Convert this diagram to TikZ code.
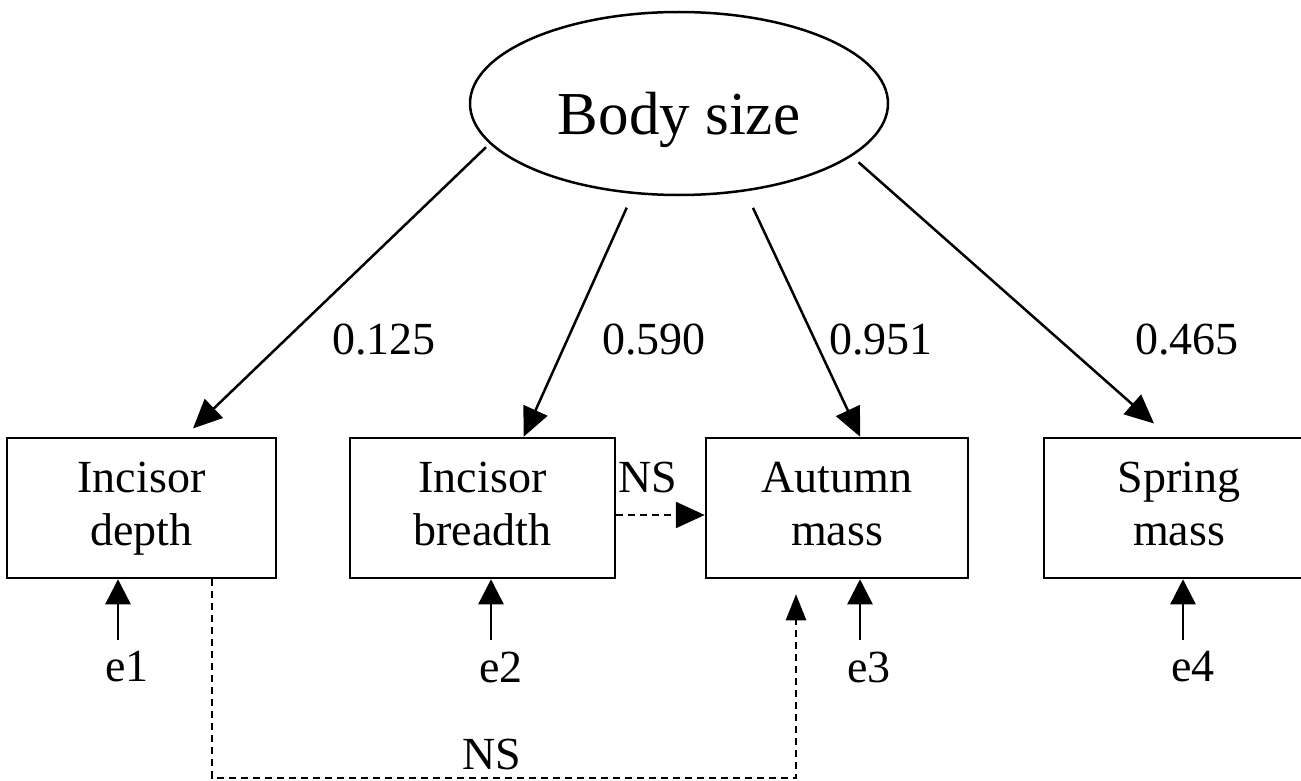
\documentclass[tikz,border=0pt]{standalone}
\usepackage{fontspec}
\setmainfont{Liberation Serif}
\usetikzlibrary{arrows.meta,shapes.geometric,calc}
\begin{document}
\begin{tikzpicture}[x=1pt,y=-1pt,
  txt/.style={font=\fontsize{46}{53}\selectfont, inner sep=0pt},
  boxnode/.style={draw, line width=2.5pt, minimum height=140pt, align=center, inner sep=0pt, txt},
  latent/.style={draw, ellipse, line width=2.5pt, minimum width=418pt, minimum height=183pt,
                 inner sep=0pt, font=\fontsize{61}{70}\selectfont, text height=63pt, text depth=0pt},
  link/.style={line width=2.5pt, -{Triangle[length=29pt,width=26pt]}},
  dlink/.style={link, dash pattern=on 7pt off 5pt},
  elink/.style={line width=2.5pt, -{Triangle[length=25pt,width=25pt]}}
]
\useasboundingbox (0,0) rectangle (1301,781);

% latent variable
\node[latent] (bs) at (679,103.5) {Body size};

% observed variables
\node[boxnode, minimum width=269pt] (b1) at (141.5,508) {Incisor\strut\\depth\strut};
\node[boxnode, minimum width=265pt] (b2) at (482.5,508) {Incisor\strut\\breadth\strut};
\node[boxnode, minimum width=262pt] (b3) at (837,508)   {Autumn\strut\\mass\strut};
\node[boxnode, minimum width=270pt] (b4) at (1179,508)  {Spring\strut\\mass\strut};

% loadings
\draw[link, shorten <=5pt, shorten >=12pt] (bs.192.5) -- (b1.59);
\draw[link, shorten <=15pt] (bs.243.7) -- (b2.60);
\draw[link, shorten <=18pt] (bs.307) -- (b3.72.6);
\draw[link, shorten <=9pt, shorten >=20pt] (bs.343.6) -- (b4.98.3);

\node[txt] (w1) at (384,340) {0.125};
\node[txt] (w2) at (654,340) {0.590};
\node[txt] (w3) at (881,340) {0.951};
\node[txt] (w4) at (1187,340) {0.465};

% error terms
\node[txt] (e1) at (127,667) {e1};
\node[txt] (e2) at (501,667) {e2};
\node[txt] (e3) at (869,667) {e3};
\node[txt] (e4) at (1193,667) {e4};
\coordinate (t1) at (118,640);
\coordinate (t2) at (491,640);
\coordinate (t3) at (860,640);
\coordinate (t4) at (1183,640);
\draw[elink] (t1) -- (t1 |- b1.south);
\draw[elink] (t2) -- (t2 |- b2.south);
\draw[elink] (t3) -- (t3 |- b3.south);
\draw[elink] (t4) -- (t4 |- b4.south);

% non-significant paths
\draw[dlink] ($(b2.east)+(0,7)$) -- ($(b3.west)+(0,7)$);
\node[txt] (ns1) at (648,477) {NS};

\coordinate (c1) at (212,778);
\coordinate (c2) at (796,778);
\draw[line width=2.5pt, dash pattern=on 7pt off 5pt, -{Triangle[length=26pt,width=20pt]}, shorten >=15pt]
  (c1 |- b1.south) -- (c1) -- (c2) -- (c2 |- b3.south);
\node[txt] (ns2) at (492,754) {NS};
\end{tikzpicture}
\end{document}
